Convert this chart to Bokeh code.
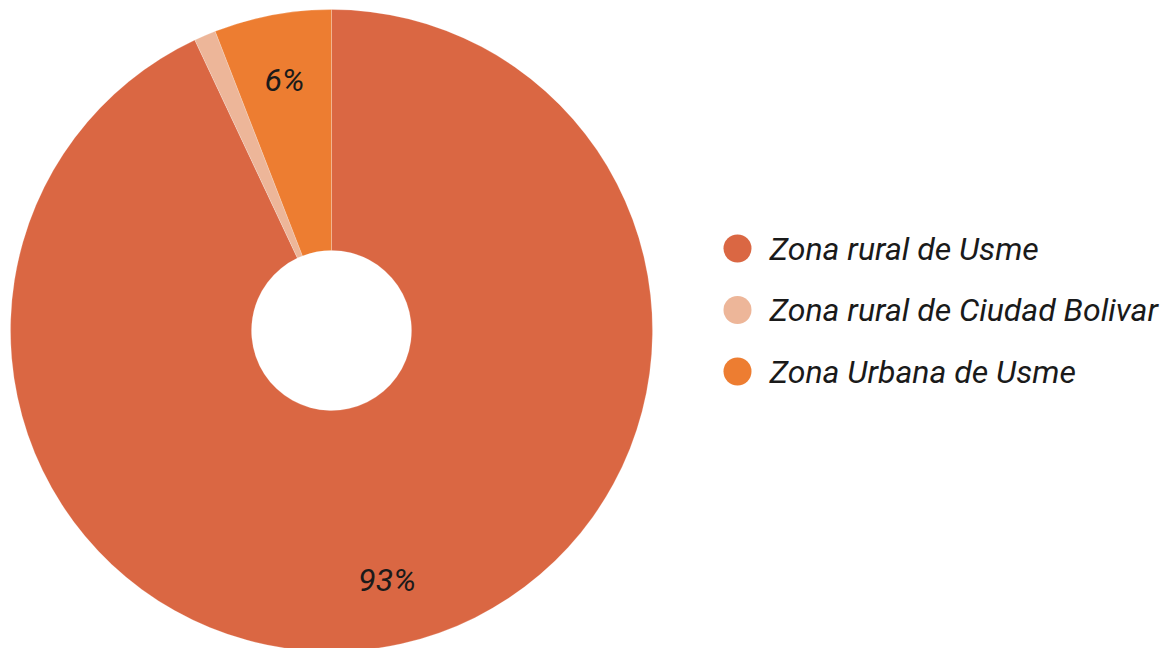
import math
from bokeh.plotting import figure
from bokeh.models import ColumnDataSource
from bokeh.core.properties import value
from bokeh.embed import file_html
from bokeh.resources import INLINE

categories = ["Zona rural de Usme", "Zona rural de Ciudad Bolivar", "Zona Urbana de Usme"]
values = [93.0, 1.1, 5.9]
labels = ["93%", "", "6%"]
colors = ["#DA6743", "#EDB699", "#ED7D31"]

W, H = 1169, 648
p = figure(width=W, height=H, x_range=(0, W), y_range=(0, H),
           output_backend="svg", toolbar_location=None, min_border=0)
p.axis.visible = False
p.grid.visible = False
p.outline_line_color = None
p.background_fill_color = None
p.border_fill_color = None

cx, cy = 331, 318
r_out, r_in = 321, 80
total = sum(values)
starts, ends, lx, ly = [], [], [], []
acc = 0.0
for v in values:
    a0 = math.pi / 2 - 2 * math.pi * acc / total
    a1 = math.pi / 2 - 2 * math.pi * (acc + v) / total
    starts.append(a1)
    ends.append(a0)
    mid = (a0 + a1) / 2
    lx.append(cx + 0.795 * r_out * math.cos(mid))
    ly.append(cy + 0.795 * r_out * math.sin(mid))
    acc += v

src = ColumnDataSource(dict(start=starts, end=ends, color=colors, lx=lx, ly=ly, label=labels))
p.annular_wedge(x=cx, y=cy, inner_radius=r_in, outer_radius=r_out,
                start_angle="start", end_angle="end", fill_color="color",
                line_color="white", line_width=0.6, line_alpha=0.35, source=src)
p.text(x="lx", y="ly", text="label", source=src, text_font=value("Roboto"),
       text_font_style="italic", text_font_size="32px", text_color="#1a1a1a",
       text_align="center", text_baseline="middle")

leg_y = [400 - i * 61.5 for i in range(len(categories))]
lsrc = ColumnDataSource(dict(y=leg_y, color=colors, name=categories))
p.scatter(x=737, y="y", size=28, marker="circle", fill_color="color", line_color=None, source=lsrc)
p.text(x=769, y="y", text="name", source=lsrc, text_font=value("Roboto"),
       text_font_style="italic", text_font_size="32px", text_color="#1a1a1a",
       text_align="left", text_baseline="middle")

open("out.html", "w").write(file_html(p, INLINE))
